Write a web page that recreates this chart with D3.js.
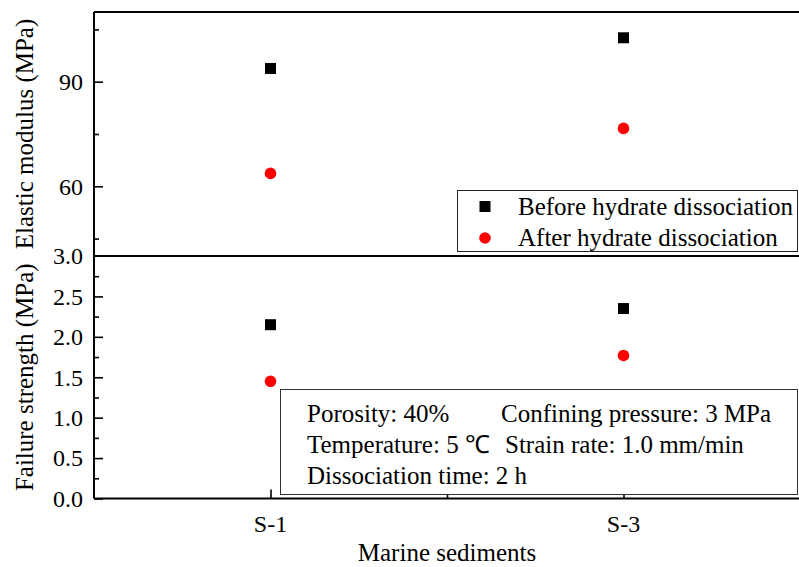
<!DOCTYPE html>
<html>
<head>
<meta charset="utf-8">
<script src="https://cdn.jsdelivr.net/npm/d3@7"></script>
<style>
  html, body { margin: 0; padding: 0; background: #fff; }
  svg { display: block; }
  text { font-family: "Liberation Serif", "Times New Roman", serif; fill: #000; }
</style>
</head>
<body>
<svg id="chart" width="799" height="567"></svg>
<script>
// Samples and measured properties
const samples = ["S-1", "S-3"];
const samplePos = [1, 2];
const modulusBefore = [93.8, 102.6];   // MPa
const modulusAfter = [63.7, 76.6];     // MPa
const strengthBefore = [2.15, 2.35];   // MPa
const strengthAfter = [1.45, 1.77];    // MPa

const modulusTicks = [60, 90];
const modulusMinor = [45, 75, 105];
const strengthTicks = [0, 0.5, 1.0, 1.5, 2.0, 2.5, 3.0];
const strengthMinor = [0.25, 0.75, 1.25, 1.75, 2.25, 2.75];

const seriesNames = ["Before hydrate dissociation", "After hydrate dissociation"];
const conditionsLeft = ["Porosity: 40%", "Temperature: 5 \u2103", "Dissociation time: 2 h"];
const conditionsRight = ["Confining pressure: 3 MPa", "Strain rate: 1.0 mm/min", ""];

const svg = d3.select("#chart");
const left = 94, right = 800;
const topY0 = 12, midY = 256, botY = 498.5;

const x = d3.scaleLinear().domain([0.5, 2.5]).range([left, right]);
const yTop = d3.scaleLinear().domain([40, 110]).range([midY, topY0]);
const yBot = d3.scaleLinear().domain([0, 3]).range([botY, midY]);

const tickFont = 24;

// Y axis of the upper panel (elastic modulus)
const gTopAxis = svg.append("g").attr("transform", `translate(${left},0)`);
gTopAxis.call(d3.axisRight(yTop).tickValues(modulusTicks).tickSize(9).tickFormat(""));
gTopAxis.append("g").call(d3.axisRight(yTop).tickValues(modulusMinor).tickSize(5).tickFormat(""));
gTopAxis.selectAll(".domain").remove();
gTopAxis.selectAll("line").attr("stroke", "#000").attr("stroke-width", 1.6);
svg.append("g").selectAll("text").data(modulusTicks).join("text")
  .attr("x", 83).attr("y", d => yTop(d)).attr("dy", "0.35em")
  .attr("text-anchor", "end").attr("font-size", tickFont).text(d => d);

// Y axis of the lower panel (failure strength)
const gBotAxis = svg.append("g").attr("transform", `translate(${left},0)`);
gBotAxis.call(d3.axisRight(yBot).tickValues(strengthTicks.filter(d => d < 3)).tickSize(9).tickFormat(""));
gBotAxis.append("g").call(d3.axisRight(yBot).tickValues(strengthMinor).tickSize(5).tickFormat(""));
gBotAxis.selectAll(".domain").remove();
gBotAxis.selectAll("line").attr("stroke", "#000").attr("stroke-width", 1.6);
svg.append("g").selectAll("text").data(strengthTicks).join("text")
  .attr("x", 83).attr("y", d => yBot(d)).attr("dy", "0.35em")
  .attr("text-anchor", "end").attr("font-size", tickFont).text(d => d3.format(".1f")(d));

// X axis ticks (inward)
const gX = svg.append("g").attr("transform", `translate(0,${botY})`);
gX.call(d3.axisTop(x).tickValues(samplePos).tickSize(9).tickFormat(""));
gX.append("g").call(d3.axisTop(x).tickValues([1.5]).tickSize(5).tickFormat(""));
gX.selectAll(".domain").remove();
gX.selectAll("line").attr("stroke", "#000").attr("stroke-width", 1.6);
svg.append("g").selectAll("text").data(samples).join("text")
  .attr("x", (d, i) => x(samplePos[i])).attr("y", botY + 33)
  .attr("text-anchor", "middle").attr("font-size", tickFont).text(d => d);

// Panel frame lines
const frame = svg.append("g").attr("stroke", "#000").attr("fill", "none");
frame.append("line").attr("x1", left).attr("x2", right).attr("y1", topY0).attr("y2", topY0).attr("stroke-width", 2);
frame.append("line").attr("x1", left).attr("x2", right).attr("y1", midY).attr("y2", midY).attr("stroke-width", 2);
frame.append("line").attr("x1", left).attr("x2", right).attr("y1", botY).attr("y2", botY).attr("stroke-width", 2);
frame.append("line").attr("x1", left).attr("x2", left).attr("y1", topY0).attr("y2", botY).attr("stroke-width", 2);

// Markers
const sq = 11, rad = 5.8;
function squares(yScale, values) {
  svg.append("g").selectAll("rect").data(values).join("rect")
    .attr("x", (d, i) => x(samplePos[i]) - sq / 2).attr("y", d => yScale(d) - sq / 2)
    .attr("width", sq).attr("height", sq).attr("fill", "#000");
}
function circles(yScale, values) {
  svg.append("g").selectAll("circle").data(values).join("circle")
    .attr("cx", (d, i) => x(samplePos[i])).attr("cy", d => yScale(d))
    .attr("r", rad).attr("fill", "#ff0000");
}
squares(yTop, modulusBefore);
circles(yTop, modulusAfter);
squares(yBot, strengthBefore);
circles(yBot, strengthAfter);

// Legend
const lg = svg.append("g");
lg.append("rect").attr("x", 457.5).attr("y", 190.5).attr("width", 340).attr("height", 61)
  .attr("fill", "#fff").attr("stroke", "#222").attr("stroke-width", 1);
lg.append("rect").attr("x", 485 - sq / 2).attr("y", 206.5 - sq / 2).attr("width", sq).attr("height", sq).attr("fill", "#000");
lg.append("circle").attr("cx", 485).attr("cy", 238).attr("r", rad).attr("fill", "#ff0000");
lg.selectAll("text").data(seriesNames).join("text")
  .attr("x", 518).attr("y", (d, i) => 215 + i * 31).attr("font-size", 25).text(d => d);

// Test-condition box
const cb = svg.append("g");
cb.append("rect").attr("x", 280.5).attr("y", 389.5).attr("width", 517).attr("height", 105)
  .attr("fill", "#fff").attr("stroke", "#333").attr("stroke-width", 1);
cb.selectAll("text.l").data(conditionsLeft).join("text").attr("class", "l")
  .attr("x", 307).attr("y", (d, i) => 422 + i * 31).attr("font-size", 25).text(d => d);
cb.selectAll("text.r").data(conditionsRight).join("text").attr("class", "r")
  .attr("x", (d, i) => i === 0 ? 501 : 505).attr("y", (d, i) => 422 + i * 31).attr("font-size", 25).text(d => d);

// Axis titles
svg.append("text").attr("transform", `translate(33,${(topY0 + midY) / 2}) rotate(-90)`)
  .attr("text-anchor", "middle").attr("font-size", 25).text("Elastic modulus (MPa)");
svg.append("text").attr("transform", `translate(33,${(midY + botY) / 2}) rotate(-90)`)
  .attr("text-anchor", "middle").attr("font-size", 25).text("Failure strength (MPa)");
svg.append("text").attr("x", (left + right) / 2).attr("y", 561)
  .attr("text-anchor", "middle").attr("font-size", 25).text("Marine sediments");
</script>
</body>
</html>
